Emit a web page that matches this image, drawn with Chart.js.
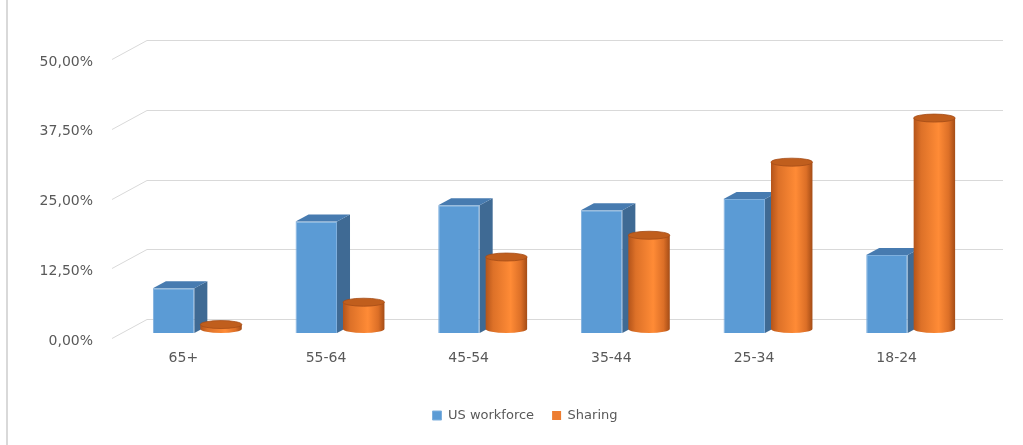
<!DOCTYPE html>
<html>
<head>
<meta charset="utf-8">
<script src="https://cdn.jsdelivr.net/npm/chart.js@4.4.0/dist/chart.umd.min.js"></script>
<style>
    html, body { margin: 0; padding: 0; background: #ffffff; }
    #contenedor { width: 1023px; height: 445px; position: relative; }
</style>
</head>
<body>
<div id="contenedor"><canvas id="grafica"></canvas></div>
<script>
const categorias = ["65+", "55-64", "45-54", "35-44", "25-34", "18-24"];
const fuerzaLaboral = [8.0, 20.0, 22.9, 22.0, 24.0, 14.0];
const sharing = [0.8, 4.8, 12.9, 16.8, 29.9, 37.8];
const ticksY = [0, 12.5, 25, 37.5, 50];

// profundidad del efecto 3D
const FONDO_X = 13;
const FONDO_Y = 7;
const RADIO_Y = 4;

function formatoPorcentaje(v) {
    return v.toFixed(2).replace(".", ",") + "%";
}

function dibujarCaja(ctx, bar) {
    const { x, y, base, width } = bar.getProps(["x", "y", "base", "width"], true);
    const izq = x - width / 2;
    const der = x + width / 2;
    ctx.save();
    // cara lateral
    ctx.fillStyle = "#3f6a94";
    ctx.beginPath();
    ctx.moveTo(der, y);
    ctx.lineTo(der + FONDO_X, y - FONDO_Y);
    ctx.lineTo(der + FONDO_X, base - FONDO_Y);
    ctx.lineTo(der, base);
    ctx.closePath();
    ctx.fill();
    // cara superior
    ctx.fillStyle = "#477bb0";
    ctx.beginPath();
    ctx.moveTo(izq, y);
    ctx.lineTo(izq + FONDO_X, y - FONDO_Y);
    ctx.lineTo(der + FONDO_X, y - FONDO_Y);
    ctx.lineTo(der, y);
    ctx.closePath();
    ctx.fill();
    ctx.restore();
}

function dibujarCilindro(ctx, bar) {
    const { x, y, base, width } = bar.getProps(["x", "y", "base", "width"], true);
    const izq = x - width / 2;
    const rx = width / 2;
    const arriba = y - RADIO_Y;
    const abajo = base - RADIO_Y;

    const grad = ctx.createLinearGradient(izq, 0, izq + width, 0);
    grad.addColorStop(0, "#b4541a");
    grad.addColorStop(0.18, "#dd7128");
    grad.addColorStop(0.6, "#ff8b36");
    grad.addColorStop(0.85, "#dc6f27");
    grad.addColorStop(1, "#a44c16");

    ctx.save();
    ctx.fillStyle = grad;
    ctx.beginPath();
    ctx.moveTo(izq, arriba);
    ctx.lineTo(izq, abajo);
    ctx.ellipse(x, abajo, rx, RADIO_Y, 0, Math.PI, 0, true);
    ctx.lineTo(izq + width, arriba);
    ctx.closePath();
    ctx.fill();

    ctx.fillStyle = "#c05e1d";
    ctx.strokeStyle = "#a44d18";
    ctx.lineWidth = 0.8;
    ctx.beginPath();
    ctx.ellipse(x, arriba, rx, RADIO_Y, 0, 0, Math.PI * 2);
    ctx.fill();
    ctx.stroke();
    ctx.restore();
}

const efecto3D = {
    id: "efecto3D",
    afterLayout(chart) {
        // la leyenda del original esta algo corrida a la derecha
        if (chart.legend) {
            chart.legend.left += 34;
            chart.legend.right += 34;
        }
    },
    beforeDatasetsDraw(chart) {
        const { ctx, chartArea, scales: { y } } = chart;
        ctx.save();
        ctx.strokeStyle = "#d9d9d9";
        ctx.lineWidth = 1;
        ticksY.forEach(v => {
            const py = Math.round(y.getPixelForValue(v)) + 0.5;
            ctx.beginPath();
            ctx.moveTo(chartArea.left - 14, py + 5);
            ctx.lineTo(chartArea.left + 21, py - 14);
            ctx.lineTo(chartArea.right + 21, py - 14);
            ctx.stroke();
        });
        // borde izquierdo del marco
        ctx.lineWidth = 2;
        ctx.beginPath();
        ctx.moveTo(7, 0);
        ctx.lineTo(7, chart.height);
        ctx.stroke();
        ctx.restore();
    },
    beforeDatasetDraw(chart, args) {
        // los cilindros se dibujan a mano
        if (args.index === 1) return false;
    },
    afterDatasetsDraw(chart) {
        const ctx = chart.ctx;
        const cajas = chart.getDatasetMeta(0).data;
        const cilindros = chart.getDatasetMeta(1).data;
        cajas.forEach((bar, i) => {
            dibujarCaja(ctx, bar);
            dibujarCilindro(ctx, cilindros[i]);
        });
    }
};

Chart.defaults.font.family = "'DejaVu Sans', sans-serif";
Chart.defaults.color = "#595959";

const ctx = document.getElementById("grafica").getContext("2d");
new Chart(ctx, {
    type: "bar",
    data: {
        labels: categorias,
        datasets: [
            { label: "US workforce", data: fuerzaLaboral, backgroundColor: "#5b9bd5", borderColor: "#7fb0de", borderWidth: 1 },
            { label: "Sharing", data: sharing, backgroundColor: "#ed7d31" }
        ]
    },
    options: {
        responsive: true,
        maintainAspectRatio: false,
        animation: false,
        categoryPercentage: 0.665,
        barPercentage: 0.874,
        layout: { padding: { left: 0, right: 41, top: 54, bottom: 13 } },
        plugins: {
            legend: {
                position: "bottom",
                labels: { boxWidth: 9, boxHeight: 9, padding: 18, font: { size: 13 } }
            },
            tooltip: { enabled: false }
        },
        scales: {
            x: {
                grid: { display: false, drawTicks: false },
                border: { display: false },
                ticks: { font: { size: 14 }, padding: 17, labelOffset: -14 },
                afterFit: s => { s.height = 58; }
            },
            y: {
                min: 0,
                max: 50,
                grid: { display: false, drawTicks: false },
                border: { display: false },
                ticks: { font: { size: 14 }, padding: 33, labelOffset: 8, callback: v => formatoPorcentaje(v) },
                afterBuildTicks: s => { s.ticks = ticksY.map(v => ({ value: v })); },
                afterFit: s => { s.width = 126; }
            }
        }
    },
    plugins: [efecto3D]
});
</script>
</body>
</html>
